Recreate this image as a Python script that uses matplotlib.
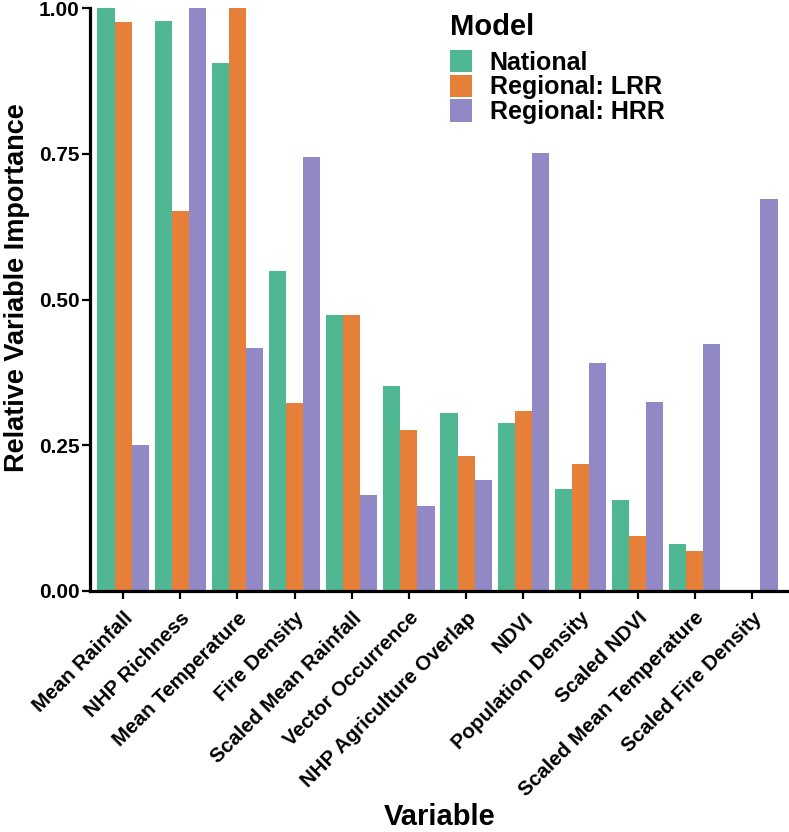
import matplotlib
matplotlib.use("Agg")
import matplotlib.pyplot as plt
import numpy as np
from matplotlib.patches import Patch

plt.rcParams['font.family'] = ['Liberation Sans', 'DejaVu Sans']

categories = ["Mean Rainfall", "NHP Richness", "Mean Temperature", "Fire Density",
              "Scaled Mean Rainfall", "Vector Occurrence", "NHP Agriculture Overlap",
              "NDVI", "Population Density", "Scaled NDVI", "Scaled Mean Temperature",
              "Scaled Fire Density"]
national = [1.00, 0.978, 0.905, 0.549, 0.473, 0.352, 0.305, 0.289, 0.175, 0.156, 0.081, 0.0]
regional_lrr = [0.976, 0.651, 1.00, 0.323, 0.473, 0.277, 0.231, 0.308, 0.218, 0.095, 0.069, 0.0]
regional_hrr = [0.250, 1.00, 0.417, 0.745, 0.164, 0.145, 0.191, 0.752, 0.391, 0.324, 0.424, 0.673]
series_names = ["National", "Regional: LRR", "Regional: HRR"]
colors = ["#4fb893", "#e67f37", "#9189c6"]
yticks = [0.00, 0.25, 0.50, 0.75, 1.00]

W, H = 789, 832
top_px, bot_px = 8, 591
fig = plt.figure(figsize=(W / 100, H / 100), dpi=100)
ax = fig.add_axes([90 / W, 1 - bot_px / H, (W - 90) / W, (bot_px - top_px) / H])

x = np.arange(1, len(categories) + 1)
bw = 0.3
for i, (vals, c) in enumerate(zip([national, regional_lrr, regional_hrr], colors)):
    ax.bar(x + (i - 1) * bw, vals, width=bw, color=c, edgecolor='none', linewidth=0, zorder=2)

ax.set_xlim(0.42, 12.65)
ax.set_ylim(0, 1)
ax.set_yticks(yticks)
ax.set_yticklabels([f"{t:.2f}" for t in yticks], fontsize=15, fontweight='bold')
ax.set_xticks(x)
ax.set_xticklabels(categories, rotation=45, ha='right', rotation_mode='anchor',
                   fontsize=14.8, fontweight='bold')
for s in ['top', 'right']:
    ax.spines[s].set_visible(False)
for s in ['left', 'bottom']:
    ax.spines[s].set_linewidth(2.3)
    ax.spines[s].set_zorder(3)
ax.tick_params(axis='both', length=5.5, width=1.6, color='black')
ax.tick_params(axis='y', pad=2)
ax.tick_params(axis='x', pad=7)

ax.set_ylabel("Relative Variable Importance", fontsize=19.5, fontweight='bold')
ax.yaxis.set_label_coords(-(90 - 4) / (W - 90), 0.52)
ax.yaxis.label.set_va('top')
ax.set_xlabel("Variable", fontsize=21, fontweight='bold')
ax.xaxis.set_label_coords((440 - 90) / (W - 90), -(803 - bot_px) / (bot_px - top_px))

handles = [Patch(facecolor=c, edgecolor='none') for c in colors]
leg = fig.legend(handles, series_names, loc='upper left',
                 bbox_to_anchor=(432 / W, 1 + 4 / H), bbox_transform=fig.transFigure,
                 frameon=False, title="Model", alignment='left',
                 prop={'size': 18, 'weight': 'bold'},
                 title_fontproperties={'size': 21, 'weight': 'bold'},
                 handlelength=0.88, handleheight=1.0, handletextpad=0.72,
                 labelspacing=0.0, borderpad=0.2)
leg._legend_box.sep = 6

fig.savefig("out.png", dpi=100)
